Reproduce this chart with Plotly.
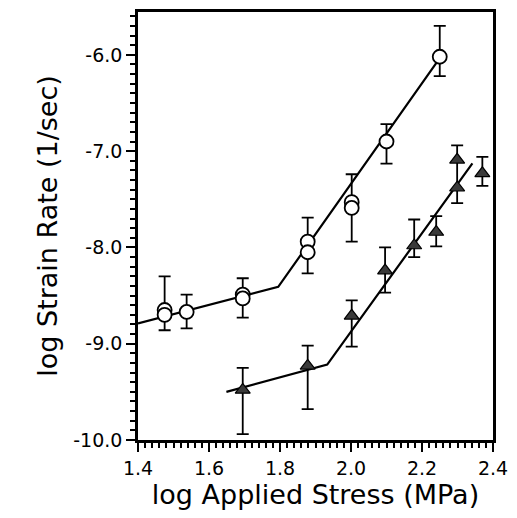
import plotly.graph_objects as go

# ---- data ----
circle_x = [1.475, 1.475, 1.537, 1.695, 1.695, 1.878, 1.878, 2.002, 2.002, 2.100, 2.250]
circle_y = [-8.65, -8.70, -8.67, -8.49, -8.53, -7.94, -8.05, -7.53, -7.59, -6.90, -6.02]

circle_err_x = [1.475, 1.537, 1.695, 1.878, 2.002, 2.100, 2.250]
circle_err_lo = [-8.86, -8.84, -8.73, -8.27, -7.94, -7.13, -6.22]
circle_err_hi = [-8.30, -8.49, -8.32, -7.69, -7.24, -6.72, -5.70]

tri_x = [1.695, 1.878, 2.002, 2.096, 2.178, 2.240, 2.299, 2.299, 2.370]
tri_y = [-9.48, -9.23, -8.71, -8.24, -7.98, -7.84, -7.38, -7.09, -7.23]

tri_err_x = [1.695, 1.878, 2.002, 2.096, 2.178, 2.240, 2.299, 2.370]
tri_err_lo = [-9.94, -9.68, -9.03, -8.47, -8.10, -7.99, -7.54, -7.36]
tri_err_hi = [-9.25, -9.02, -8.55, -8.00, -7.71, -7.675, -6.94, -7.06]

circle_fit_x = [1.40, 1.795, 2.245]
circle_fit_y = [-8.79, -8.41, -6.06]
tri_fit_x = [1.649, 1.933, 2.342]
tri_fit_y = [-9.50, -9.217, -7.126]

x_ticks = [1.4, 1.6, 1.8, 2.0, 2.2, 2.4]
y_ticks = [-10.0, -9.0, -8.0, -7.0, -6.0]

X_RANGE = [1.4, 2.4]
Y_RANGE = [-10.0, -5.555]
FONT = "DejaVu Sans"


def err_trace(xs, lo, hi):
    mid = [(a + b) / 2 for a, b in zip(lo, hi)]
    half = [(b - a) / 2 for a, b in zip(lo, hi)]
    return go.Scatter(
        x=xs, y=mid, mode="markers",
        marker=dict(size=1, color="rgba(0,0,0,0)"),
        error_y=dict(type="data", array=half, symmetric=True,
                     color="black", thickness=1.8, width=6),
        showlegend=False, hoverinfo="skip",
    )


fig = go.Figure()
fig.add_trace(go.Scatter(x=circle_fit_x, y=circle_fit_y, mode="lines",
                         line=dict(color="black", width=2.2), showlegend=False))
fig.add_trace(go.Scatter(x=tri_fit_x, y=tri_fit_y, mode="lines",
                         line=dict(color="black", width=2.2), showlegend=False))
fig.add_trace(err_trace(circle_err_x, circle_err_lo, circle_err_hi))
fig.add_trace(err_trace(tri_err_x, tri_err_lo, tri_err_hi))
fig.add_trace(go.Scatter(x=circle_x, y=circle_y, mode="markers",
                         marker=dict(symbol="circle", size=14, color="white",
                                     line=dict(color="black", width=1.8)),
                         showlegend=False))
fig.add_trace(go.Scatter(x=tri_x, y=tri_y, mode="markers",
                         marker=dict(symbol="triangle-up", size=13, color="#3a3a3a",
                                     line=dict(color="black", width=1.2)),
                         showlegend=False))

fig.update_layout(
    width=517, height=518,
    margin=dict(l=138, r=23, t=9, b=78),
    paper_bgcolor="white", plot_bgcolor="white",
    font=dict(family=FONT, color="black"),
)
fig.update_xaxes(
    range=X_RANGE, showgrid=False, zeroline=False,
    tickmode="array", tickvals=x_ticks, ticktext=[f"{v:.1f}" for v in x_ticks],
    ticks="outside", ticklen=9, tickwidth=2.4, tickcolor="#000000",
    tickfont=dict(size=19, family=FONT),
    minor=dict(ticks="outside", ticklen=5, tickwidth=2, tickcolor="#000000",
               dtick=0.02, tick0=1.4, showgrid=False),
    showline=True, linecolor="black", linewidth=2.5, mirror=True,
    title=dict(text="log Applied Stress (MPa)", font=dict(size=27, family=FONT), standoff=6),
)
fig.update_yaxes(
    range=Y_RANGE, showgrid=False, zeroline=False,
    tickmode="array", tickvals=y_ticks, ticktext=[f"{v:.1f}" for v in y_ticks],
    ticks="outside", ticklen=9, tickwidth=2.4, tickcolor="#000000",
    tickfont=dict(size=19, family=FONT),
    minor=dict(ticks="outside", ticklen=5, tickwidth=2, tickcolor="#000000",
               dtick=0.1, tick0=-10.0, showgrid=False),
    showline=True, linecolor="black", linewidth=2.5, mirror=True,
    title=dict(text="log Strain Rate (1/sec)", font=dict(size=27, family=FONT), standoff=8),
)

fig.write_html("out.html")
